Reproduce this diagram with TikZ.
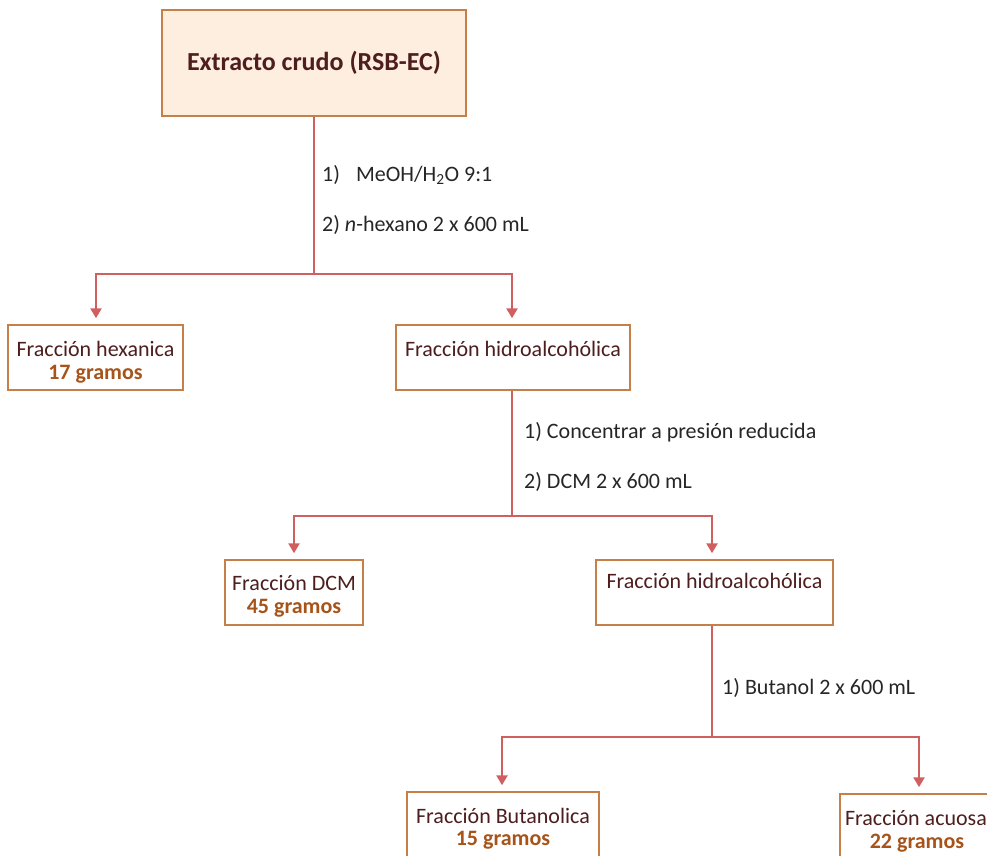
\documentclass[tikz,border=0pt]{standalone}
\usepackage{fontspec}
\setmainfont{Carlito}
\usetikzlibrary{arrows.meta}
\definecolor{linec}{RGB}{208,96,96}
\definecolor{boxc}{RGB}{196,128,72}
\definecolor{topfill}{RGB}{253,238,224}
\definecolor{txtc}{RGB}{78,30,30}
\definecolor{gramc}{RGB}{166,84,26}
\tikzset{
  fbox/.style={draw=boxc, line width=1.5pt, fill=white, minimum width=#1, inner sep=0pt},
  boxh/.style={minimum height=65pt},
  txt/.style={text=txtc, font=\fontsize{22}{26}\selectfont, inner sep=0pt},
  gram/.style={text=gramc, font=\fontsize{22}{26}\selectfont\bfseries, inner sep=0pt},
  lab/.style={text=black!85, font=\fontsize{22}{26}\selectfont, inner sep=0pt, anchor=west},
  conn/.style={draw=linec, line width=2.8pt},
  arr/.style={draw=linec, line width=2.8pt, -{Triangle[length=10pt,width=11pt]}, shorten >=6pt},
}
\begin{document}
\begin{tikzpicture}[x=1pt,y=-1pt]
\useasboundingbox (0,0) rectangle (987,855);
\clip (0,0) rectangle (987,855);
% top
\node[fbox=304pt, minimum height=106pt, fill=topfill] (top) at (314,63) {};
\node[txt, font=\fontsize{26}{30}\selectfont\bfseries, text=txtc] (toptxt) at (314,63) {Extracto crudo (RSB-EC)};
% level 1
\coordinate (j1) at (314,274);
\coordinate (j1l) at (96,274);
\coordinate (j1r) at (512,274);
\draw[conn] (top.south) -- (j1);
\draw[conn, line cap=rect] (j1l) -- (j1r);
\node[lab] (l1a) at (322,175) {1)\hspace{16pt}MeOH/H\textsubscript{2}O 9:1};
\node[lab] (l1b) at (322,225) {2) \textit{n}-hexano 2 x 600 mL};
\node[fbox=175pt, boxh] (hex) at (95.5,357.5) {};
\node[txt] (hext) at (95.5,349) {Fracción hexanica};
\node[gram] (hexg) at (95.5,374) {17 gramos};
\node[fbox=234pt, boxh] (hid1) at (513,357.5) {};
\node[txt] (hid1t) at (513,349) {Fracción hidroalcohólica};
\draw[arr] (j1l) -- (j1l |- hex.north);
\draw[arr] (j1r) -- (j1r |- hid1.north);
% level 2
\coordinate (j2) at (512,516);
\coordinate (j2l) at (294,516);
\coordinate (j2r) at (712,516);
\draw[conn] (hid1.south -| j2) -- (j2);
\draw[conn, line cap=rect] (j2l) -- (j2r);
\node[lab] (l2a) at (524,432) {1) Concentrar a presión reducida};
\node[lab] (l2b) at (524,482) {2) DCM 2 x 600 mL};
\node[fbox=138pt, boxh] (dcm) at (294,592.5) {};
\node[txt] (dcmt) at (294,583) {Fracción DCM};
\node[gram] (dcmg) at (294,608) {45 gramos};
\node[fbox=237pt, boxh] (hid2) at (714.5,592.5) {};
\node[txt] (hid2t) at (714.5,581) {Fracción hidroalcohólica};
\draw[arr] (j2l) -- (j2l |- dcm.north);
\draw[arr] (j2r) -- (j2r |- hid2.north);
% level 3
\coordinate (j3) at (712,737);
\coordinate (j3l) at (502,737);
\coordinate (j3r) at (919,737);
\draw[conn] (hid2.south -| j3) -- (j3);
\draw[conn, line cap=rect] (j3l) -- (j3r);
\node[lab] (l3a) at (722,688) {1) Butanol 2 x 600 mL};
\node[fbox=192pt, minimum height=75pt] (but) at (503,829.5) {};
\node[txt] (butt) at (503,816) {Fracción Butanolica};
\node[gram] (butg) at (503,840) {15 gramos};
\node[fbox=158pt, minimum height=75pt] (acu) at (919,831.5) {};
\node[txt] (acut) at (916,818) {Fracción acuosa};
\node[gram] (acug) at (917,843) {22 gramos};
\draw[arr] (j3l) -- (j3l |- but.north);
\draw[arr] (j3r) -- (j3r |- acu.north);
\end{tikzpicture}
\end{document}
